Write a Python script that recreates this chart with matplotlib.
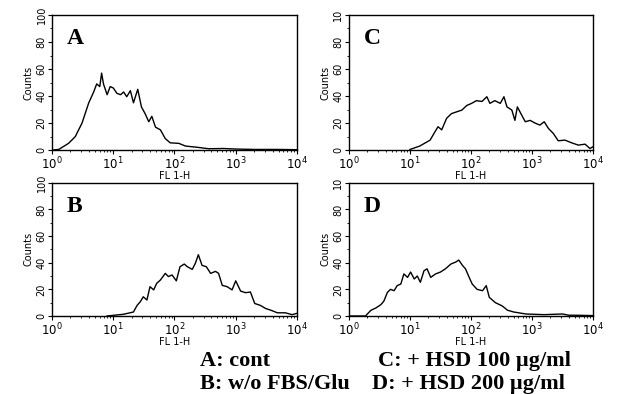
import matplotlib
matplotlib.use('Agg')
import matplotlib.pyplot as plt
import numpy as np
from matplotlib.ticker import FixedLocator, NullFormatter

# FL1-H position in decades (log10) and counts
a_log = [0.0, 0.11, 0.27, 0.38, 0.49, 0.6, 0.68, 0.73, 0.78, 0.81, 0.84, 0.9, 0.95, 1.0, 1.06,
         1.12, 1.17, 1.22, 1.28, 1.33, 1.4, 1.46, 1.52, 1.58, 1.63, 1.69, 1.77, 1.85, 1.93,
         2.07, 2.18, 2.39, 2.56, 2.8, 3.0, 3.3, 3.7, 4.0]
a_counts = [0, 0.5, 5, 10, 20, 35, 43, 49, 47, 57, 49, 41, 47, 46, 42,
            41, 43, 39.5, 44, 35, 45, 32, 27, 21, 25, 17, 15, 8.5, 5.4,
            5, 3, 2, 1, 1.2, 0.8, 0.5, 0.5, 0.3]

c_log = [1.0, 1.16, 1.33, 1.41, 1.46, 1.52, 1.6, 1.68, 1.77, 1.85, 1.93, 2.01, 2.09, 2.18,
         2.26, 2.31, 2.39, 2.48, 2.54, 2.59, 2.67, 2.72, 2.76, 2.83, 2.89, 2.97, 3.05,
         3.13, 3.2, 3.27, 3.35, 3.43, 3.54, 3.65, 3.76, 3.87, 3.95, 4.0]
c_counts = [0.5, 3, 7.4, 13.6, 17.3, 15, 23.5, 27, 28.4, 29.6, 33, 34.6, 36.6, 36,
            39.5, 34.6, 36.6, 34.6, 39.5, 32, 29.6, 22, 32, 26, 21, 22, 20,
            18.5, 21, 16, 12.3, 6.9, 7.4, 5.4, 3.7, 4.4, 1.2, 2.5]

b_log = [0.9, 1.0, 1.17, 1.33, 1.39, 1.44, 1.49, 1.55, 1.6, 1.66, 1.71, 1.77, 1.85, 1.9,
         1.96, 2.03, 2.09, 2.16, 2.21, 2.29, 2.34, 2.39, 2.45, 2.52, 2.59, 2.67, 2.72,
         2.78, 2.86, 2.94, 3.0, 3.08, 3.16, 3.24, 3.31, 3.4, 3.49, 3.57, 3.68, 3.81,
         3.92, 4.0]
b_counts = [0, 0.5, 1.3, 3, 8, 10.6, 14.4, 12, 22, 19.6, 24.5, 27, 32, 29.6,
            30.8, 26.4, 37, 39, 37, 35, 39.5, 46, 38, 37, 32, 33.5, 32,
            23, 22, 19.6, 26.4, 18.7, 17.5, 18, 9.4, 8, 5.6, 4.4, 2.4, 2.4,
            1, 2]

d_log = [0.0, 0.27, 0.36, 0.44, 0.52, 0.57, 0.63, 0.68, 0.74, 0.79, 0.85, 0.9, 0.96, 1.01,
         1.07, 1.12, 1.17, 1.23, 1.28, 1.34, 1.42, 1.5, 1.58, 1.67, 1.75, 1.8, 1.86,
         1.91, 1.97, 2.02, 2.1, 2.19, 2.25, 2.3, 2.4, 2.51, 2.6, 2.7, 2.9, 3.2, 3.5,
         3.6, 3.8, 4.0]
d_counts = [0, 0, 4.3, 6, 8.4, 11, 17.7, 20, 19, 22.8, 24, 31.6, 29, 33,
            27.8, 30, 25.3, 34, 35.4, 29, 31.6, 33, 35.4, 39, 40.5, 42, 38,
            35.4, 29, 24, 20, 19, 22.8, 14, 10, 7.6, 4.3, 3, 1.5, 1, 1.5,
            0.6, 0.5, 0.3]

panels = [
    ('A', a_log, a_counts, [0.0843, 0.619, 0.397, 0.343], '100'),
    ('C', c_log, c_counts, [0.5656, 0.619, 0.3955, 0.343], '10'),
    ('B', b_log, b_counts, [0.0843, 0.198, 0.397, 0.338], '100'),
    ('D', d_log, d_counts, [0.5656, 0.198, 0.3955, 0.338], '10'),
]

fig = plt.figure(figsize=(6.17, 3.94), dpi=100)
narrow = ['Liberation Sans Narrow', 'DejaVu Sans']

for letter, lg, cnt, rect, top_label in panels:
    ax = fig.add_axes(rect)
    ax.plot(10 ** np.array(lg), cnt, color='black', lw=1.0)
    ax.set_xscale('log')
    ax.set_xlim(1, 1e4)
    ax.set_ylim(0, 100)
    ax.set_xticks([1, 10, 100, 1000, 10000])
    ax.set_xticklabels(['$10^0$', '$10^1$', '$10^2$', '$10^3$', '$10^4$'], fontsize=8.5)
    ax.xaxis.set_minor_locator(FixedLocator(
        [m * 10 ** e for e in range(4) for m in range(2, 10)]))
    ax.xaxis.set_minor_formatter(NullFormatter())
    ax.set_yticks([0, 20, 40, 60, 80, 100])
    ax.set_yticklabels(['0', '20', '40', '60', '80', top_label],
                       rotation=90, va='center', fontsize=7, family=narrow)
    ax.set_yticks(np.arange(0, 101, 10), minor=True)
    ax.tick_params(direction='out', length=3, width=0.8, pad=1)
    ax.tick_params(which='minor', direction='out', length=1.5, width=0.6)
    ax.set_ylabel('Counts', fontsize=7, family=narrow, labelpad=2)
    ax.set_xlabel('FL 1-H', fontsize=7, labelpad=-1)
    for s in ax.spines.values():
        s.set_linewidth(1.0)
    ax.text(0.06, 0.9, letter, transform=ax.transAxes, fontsize=17,
            fontweight='bold', family='Liberation Serif', va='top')

caption = dict(fontsize=16, fontweight='bold', family='Liberation Serif', va='center')
fig.text(200 / 617, 1 - 361 / 394, 'A: cont', **caption)
fig.text(378 / 617, 1 - 361 / 394, 'C: + HSD 100 \u00b5g/ml', **caption)
fig.text(200 / 617, 1 - 384 / 394, 'B: w/o FBS/Glu', **caption)
fig.text(372 / 617, 1 - 384 / 394, 'D: + HSD 200 \u00b5g/ml', **caption)

fig.savefig('out.png', dpi=100)
